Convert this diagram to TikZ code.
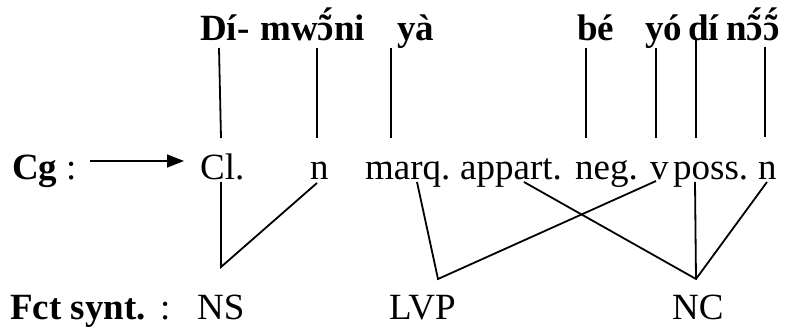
\documentclass[tikz,border=0pt]{standalone}
\usepackage{fontspec}
\setmainfont{Liberation Serif}
\usetikzlibrary{arrows.meta}
% open o carrying a tilde with an acute stacked above it
\newcommand\otildeacute{\ooalign{ɔ\cr\hidewidth˜\hidewidth\cr\hidewidth\kern0.08em\raisebox{0.2em}{´}\hidewidth\cr}}
\begin{document}
\begin{tikzpicture}[x=1pt,y=-1pt,
  word/.style={anchor=base west,inner sep=0pt,font=\fontsize{37}{40}\selectfont},
  lex/.style={word,font=\fontsize{37}{40}\selectfont\bfseries},
  link/.style={line width=1.8pt},
  pointer/.style={line width=1.5pt,-{Triangle[length=17pt,width=13pt]}}]
\useasboundingbox (0,0) rectangle (792,329);

% lexical row
\node[lex] (w1) at (200,41) {Dí-};
\node[lex] (w2) at (260,41) {mw\otildeacute ni};
\node[lex] (w3) at (397,41) {yà};
\node[lex] (w4) at (577,41) {bé};
\node[lex] (w5) at (645,41) {yó};
\node[lex] (w6) at (688,41) {dí};
\node[lex] (w7) at (726,41) {n\otildeacute\otildeacute};

% grammatical categories
\node[lex] (cg) at (12,179) {Cg};
\node[word] (cgc) at (66,179) {:};
\node[word] (c1) at (200,179) {Cl.};
\node[word] (c2) at (310,179) {n};
\node[word] (c3) at (365,179) {marq.};
\node[word] (c4) at (460,179) {appart.};
\node[word] (c5) at (575,179) {neg.};
\node[word] (c6) at (650,179) {v};
\node[word] (c7) at (673,179) {poss.};
\node[word] (c8) at (758,179) {n};

% syntactic functions
\node[lex] (fs) at (10,319) {Fct synt.};
\node[word] (fsc) at (160,319) {:};
\node[word] (ns) at (197,319) {NS};
\node[word] (lvp) at (389,319) {LVP};
\node[word] (nc) at (672,319) {NC};

% attachment points
\coordinate (t1) at (219,48);  \coordinate (b1) at (221,138);
\coordinate (t2) at (317,48);  \coordinate (b2) at (317,138);
\coordinate (t3) at (391,48);  \coordinate (b3) at (391,138);
\coordinate (t4) at (586,48);  \coordinate (b4) at (586,138);
\coordinate (t5) at (656,48);  \coordinate (b5) at (656,138);
\coordinate (t6) at (696,38);  \coordinate (b6) at (696,138);
\coordinate (t7) at (765,47);  \coordinate (b7) at (765,137);

\coordinate (u1) at (221,182);
\coordinate (u2) at (317,183);
\coordinate (u3) at (417,182);
\coordinate (u4) at (524,182);
\coordinate (u6) at (656,181);
\coordinate (u7) at (695,182);
\coordinate (u8) at (767,182);

\coordinate (ans) at (221,267);
\coordinate (alvp) at (438,279);
\coordinate (anc) at (696,279);

\coordinate (as) at (90,161);
\coordinate (ae) at (184,161);

% arrow
\draw[pointer] (as) -- (ae);

% word-to-category links
\foreach \i in {1,...,7} \draw[link] (t\i) -- (b\i);

% category-to-function links
\draw[link] (u1) -- (ans) -- (u2);
\draw[link] (u3) -- (alvp) -- (u6);
\draw[link] (u4) -- (anc) -- (u8);
\draw[link] (u7) -- (anc);
\end{tikzpicture}
\end{document}
